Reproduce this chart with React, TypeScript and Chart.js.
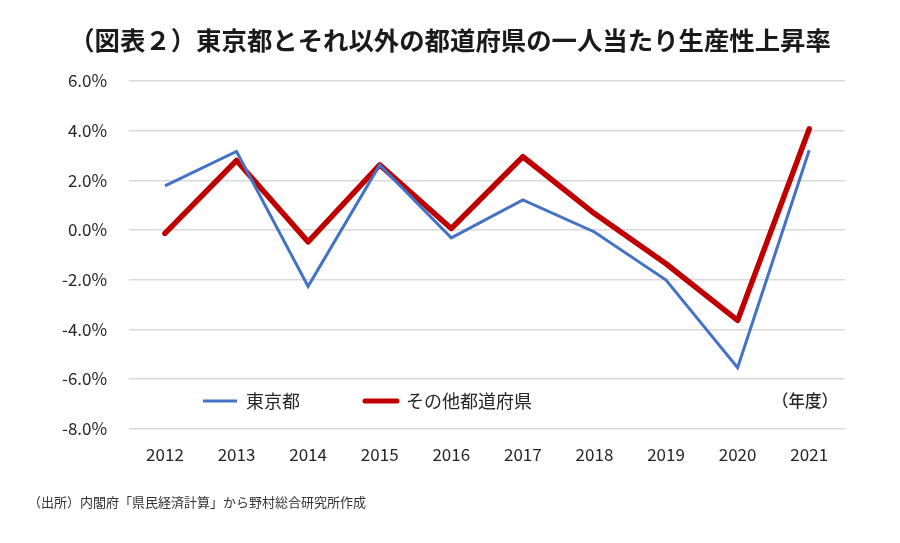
import React, { useEffect, useRef } from "react";
import { Chart, registerables } from "chart.js";

Chart.register(...registerables);

const categories = ["2012", "2013", "2014", "2015", "2016", "2017", "2018", "2019", "2020", "2021"];
const tokyo = [1.78, 3.16, -2.27, 2.62, -0.32, 1.21, -0.08, -2.02, -5.55, 3.21];
const others = [-0.14, 2.8, -0.48, 2.62, 0.06, 2.95, 0.66, -1.36, -3.64, 4.07];
const seriesNames = ["東京都", "その他都道府県"];
const titleText = "（図表２）東京都とそれ以外の都道府県の一人当たり生産性上昇率";
const unitText = "（年度）";
const sourceText = "（出所）内閣府「県民経済計算」から野村総合研究所作成";

const FONT = "'Noto Sans CJK JP', 'Noto Sans', sans-serif";
const BLUE = "#4472C4";
const RED = "#C00000";

const overlayPlugin = {
  id: "overlay",
  afterDraw(chart: any) {
    const ctx = chart.ctx;
    const w = chart.width;
    ctx.save();
    // title
    ctx.fillStyle = "#1a1a1a";
    ctx.font = `bold 25.4px ${FONT}`;
    ctx.textAlign = "center";
    ctx.textBaseline = "middle";
    ctx.fillText(titleText, w / 2, 40);
    // legend
    const ly = 401;
    ctx.lineCap = "butt";
    ctx.strokeStyle = BLUE;
    ctx.lineWidth = 3;
    ctx.beginPath();
    ctx.moveTo(203, ly);
    ctx.lineTo(237, ly);
    ctx.stroke();
    ctx.strokeStyle = RED;
    ctx.lineWidth = 5;
    ctx.lineCap = "round";
    ctx.beginPath();
    ctx.moveTo(365, ly);
    ctx.lineTo(397, ly);
    ctx.stroke();
    ctx.fillStyle = "#262626";
    ctx.font = `18px ${FONT}`;
    ctx.textAlign = "left";
    ctx.fillText(seriesNames[0], 246, ly);
    ctx.fillText(seriesNames[1], 406, ly);
    ctx.font = `500 16.5px ${FONT}`;
    ctx.fillText(unitText, 772, ly);
    // source
    ctx.fillStyle = "#333";
    ctx.font = `13px ${FONT}`;
    ctx.fillText(sourceText, 28, 502);
    ctx.restore();
  },
};

export default function App() {
  const ref = useRef<HTMLCanvasElement | null>(null);
  useEffect(() => {
    document.body.style.margin = "0";
    const chart = new Chart(ref.current as HTMLCanvasElement, {
      type: "line",
      data: {
        labels: categories,
        datasets: [
          {
            label: seriesNames[0],
            data: tokyo,
            borderColor: BLUE,
            backgroundColor: BLUE,
            borderWidth: 3,
            pointRadius: 0,
            tension: 0,
            borderJoinStyle: "miter",
          },
          {
            label: seriesNames[1],
            data: others,
            borderColor: RED,
            backgroundColor: RED,
            borderWidth: 5.5,
            pointRadius: 0,
            tension: 0,
            borderCapStyle: "round",
            borderJoinStyle: "round",
          },
        ],
      },
      options: {
        animation: false,
        responsive: true,
        maintainAspectRatio: false,
        layout: { padding: { top: 81, right: 55, bottom: 70, left: 40 } },
        plugins: {
          legend: { display: false },
          title: { display: false },
          tooltip: { enabled: false },
        },
        scales: {
          x: {
            offset: true,
            grid: { display: false },
            border: { display: false },
            ticks: { color: "#262626", font: { family: FONT, size: 17 }, padding: 8 },
          },
          y: {
            min: -8,
            max: 6,
            grid: { color: "#d9d9d9", lineWidth: 1.5, drawTicks: false },
            border: { display: false },
            ticks: {
              stepSize: 2,
              color: "#262626",
              padding: 22,
              font: { family: FONT, size: 17 },
              callback: (v: any) => Number(v).toFixed(1) + "%",
            },
          },
        },
      },
      plugins: [overlayPlugin],
    });
    return () => chart.destroy();
  }, []);
  return (
    <div style={{ position: "relative", width: 900, height: 543, background: "#fff" }}>
      <canvas ref={ref} />
    </div>
  );
}
